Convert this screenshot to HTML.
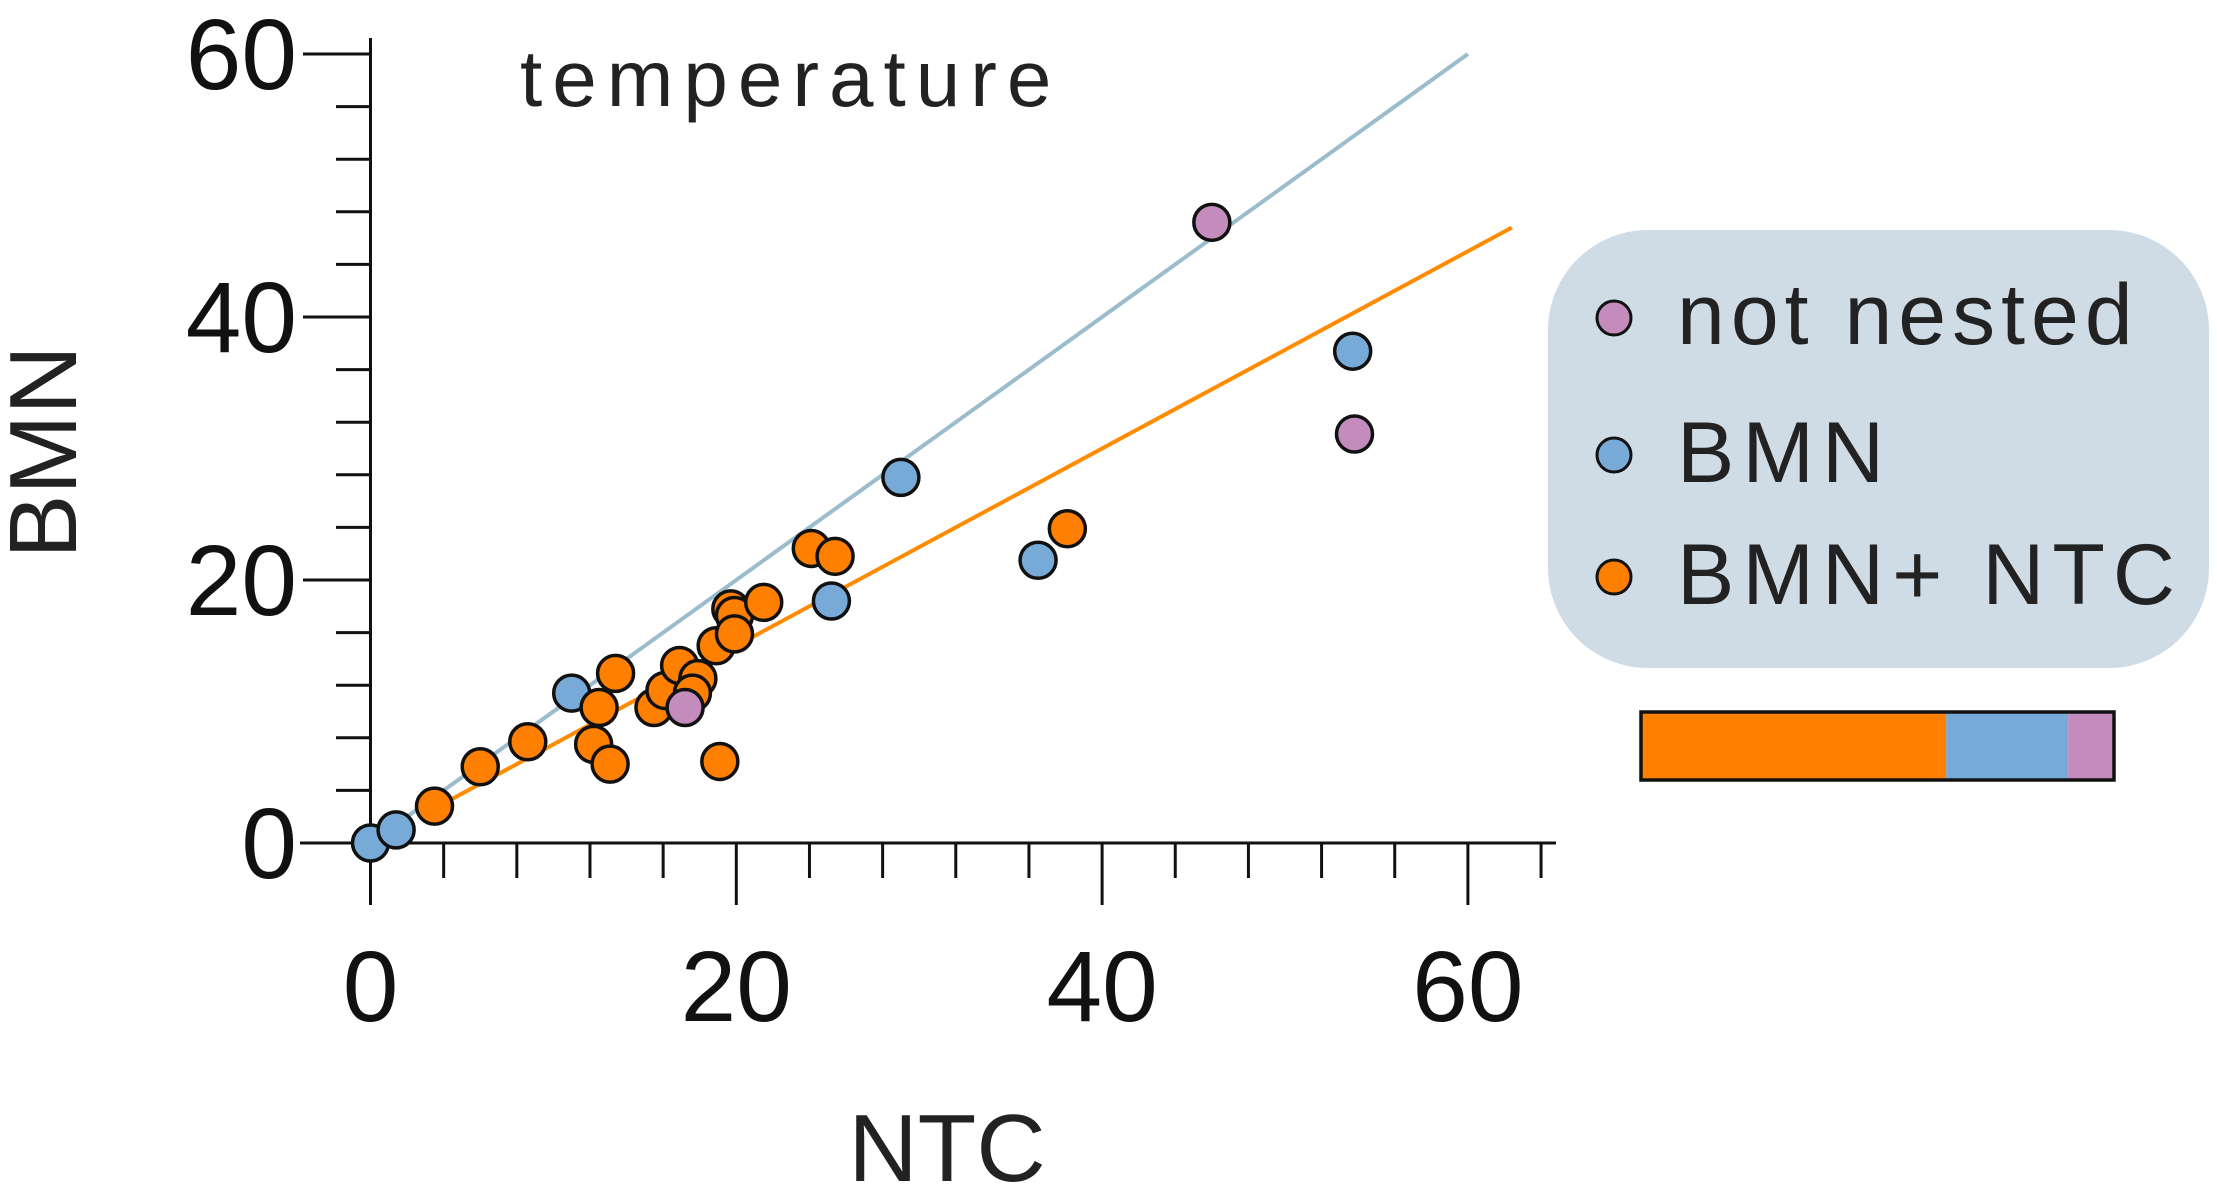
<!DOCTYPE html>
<html><head><meta charset="utf-8"><style>
html,body{margin:0;padding:0;background:#fff;}
svg{display:block;font-family:"Liberation Sans",sans-serif;}
</style></head><body>
<svg id="chart" width="2217" height="1191" viewBox="0 0 2217 1191">
<rect x="1548" y="230" width="661" height="438" rx="100" fill="#cfdce6"/>
<g id="axes"></g><g id="lines"></g><g id="points"></g>
<text x="520" y="106" font-size="80" fill="#222" letter-spacing="10">temperature</text>
<text x="947" y="1181" font-size="96" fill="#222" text-anchor="middle">NTC</text>
<text transform="translate(76,452) rotate(-90)" font-size="96" fill="#222" text-anchor="middle">BMN</text>
<g><circle cx="1614" cy="318" r="17" fill="#c48bbd" stroke="#111" stroke-width="3"/><text x="1677" y="344" font-size="86" fill="#222" letter-spacing="6">not nested</text></g>
<g><circle cx="1614" cy="455" r="17" fill="#77aad6" stroke="#111" stroke-width="3"/><text x="1677" y="482" font-size="86" fill="#222" letter-spacing="8">BMN</text></g>
<g><circle cx="1614" cy="577" r="17" fill="#ff7f00" stroke="#111" stroke-width="3"/><text x="1677" y="604" font-size="86" fill="#222" letter-spacing="8">BMN+ NTC</text></g>
<g id="stack"></g>
</svg>
<script>
const blueX=[0,1.4,11,29,25.2,36.5,53.7];
const blueY=[0,1,11.4,27.8,18.4,21.5,37.4];
const purpleX=[46,53.8,17.2];
const purpleY=[47.2,31.1,10.3];
const orangeX=[3.5,6,8.6,12.2,13.1,12.5,13.4,15.5,16.1,16.9,17.9,17.6,19.1,18.9,19.7,19.9,19.9,21.5,24.1,25.4,38.1];
const orangeY=[2.8,5.8,7.7,7.5,6,10.3,12.9,10.3,11.6,13.5,12.5,11.4,6.2,15,17.8,17.3,15.9,18.3,22.4,21.8,23.9];
const fitSlopes=[1.0,0.75];
const fitRanges=[[1,60],[3,62.4]];
const xTicks=[0,20,40,60];
const yTicks=[0,20,40,60];
const stackCounts=[20,8,3];
const NS="http://www.w3.org/2000/svg";
const sx=v=>370.5+v*18.29, sy=v=>843-v*13.15;
function mk(t,a,p){const e=document.createElementNS(NS,t);for(const k in a)e.setAttribute(k,a[k]);p.appendChild(e);return e;}
const ax=document.getElementById('axes');
let l=mk('line',{x1:sx(0),y1:sy(60)-16,x2:sx(0),y2:905,stroke:'#111','stroke-width':3},ax);


l=mk('line',{x1:300,y1:sy(0),x2:1556,y2:sy(0),stroke:'#111','stroke-width':3},ax);


for(let v=0;v<=64;v+=4){const maj=v%20===0;
 const t=mk('line',{x1:sx(v),y1:sy(0),x2:sx(v),y2:maj?905:878,stroke:'#111','stroke-width':3},ax);
 
 }
for(let v=0;v<=60;v+=4){const maj=v%20===0;
 const t=mk('line',{x1:maj?303:336,y1:sy(v),x2:sx(0),y2:sy(v),stroke:'#111','stroke-width':3},ax);
 
 }
xTicks.forEach(v=>{const t=mk('text',{x:sx(v),y:1021,'font-size':100,'text-anchor':'middle',fill:'#111'},ax);t.textContent=v;
 
 });
yTicks.forEach(v=>{const t=mk('text',{x:297,y:sy(v)+35,'font-size':100,'text-anchor':'end',fill:'#111'},ax);t.textContent=v;
 
 });
const lg=document.getElementById('lines');const lc=['#9bbccc','#ff8c00'];
fitSlopes.forEach((m,i)=>{const [a,b]=fitRanges[i];
 const e=mk('line',{x1:sx(a),y1:sy(a*m),x2:sx(b),y2:sy(b*m),stroke:lc[i],'stroke-width':4},lg);
 
 });
const pg=document.getElementById('points');
function pts(X,Y,c,n){X.forEach((x,i)=>{const e=mk('circle',{cx:sx(x),cy:sy(Y[i]),r:18,fill:c,stroke:'#111','stroke-width':3.5},pg);
 
 });}
pts(blueX,blueY,'#77aad6','point-bmn');
pts(orangeX,orangeY,'#ff7f00','point-bmn-ntc');
pts(purpleX,purpleY,'#c48bbd','point-not-nested');
const sg=document.getElementById('stack');const tot=stackCounts.reduce((a,b)=>a+b,0);
const sc=['#ff7f00','#77aad6','#c48bbd'],sn=['stack-bmn-ntc','stack-bmn','stack-not-nested'];
let cx=1641;const W=473;
stackCounts.forEach((c,i)=>{const w=W*c/tot;const e=mk('rect',{x:cx,y:712,width:w,height:68,fill:sc[i]},sg);
 
 cx+=w;});
const bo=mk('rect',{x:1641,y:712,width:W,height:68,fill:'none',stroke:'#111','stroke-width':3.5},sg);


</script>
</body></html>
